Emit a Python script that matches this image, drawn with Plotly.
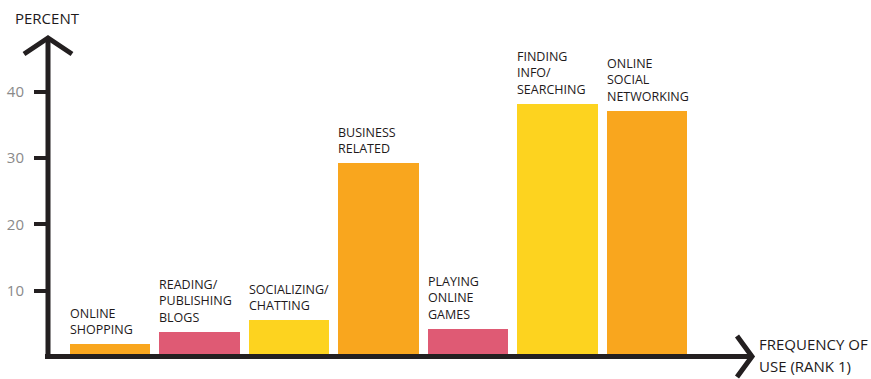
import plotly.graph_objects as go

# Share of respondents naming each activity as their most frequent use (rank 1)
categories = [
    "ONLINE<br>SHOPPING",
    "READING/<br>PUBLISHING<br>BLOGS",
    "SOCIALIZING/<br>CHATTING",
    "BUSINESS<br>RELATED",
    "PLAYING<br>ONLINE<br>GAMES",
    "FINDING<br>INFO/<br>SEARCHING",
    "ONLINE<br>SOCIAL<br>NETWORKING",
]
percent = [2.0, 3.8, 5.6, 29.3, 4.2, 38.2, 37.1]
y_ticks = [10, 20, 30, 40]

ORANGE = "#F9A61E"
PINK = "#DF5A74"
YELLOW = "#FDD31F"
bar_colors = [ORANGE, PINK, YELLOW, ORANGE, PINK, YELLOW, ORANGE]

INK = "#1E1A1B"
TICK_GREY = "#8A8A8A"
FONT = "Open Sans"

W, H = 871, 379
L, R, T, B = 51, 753, 38, 354  # plot area in pixels
ZERO_PX, PX_PER_UNIT = 357, 6.633  # where 0 % sits and the vertical scale
BAR_W = 0.894

positions = list(range(len(categories)))


def px_x(p):
    return (p - L) / (R - L)


def px_y(p):
    return (B - p) / (B - T)


fig = go.Figure(
    go.Bar(
        x=positions,
        y=percent,
        width=BAR_W,
        marker=dict(color=bar_colors, line=dict(width=0)),
        hoverinfo="skip",
    )
)

annotations = []
for i, (name, v) in enumerate(zip(categories, percent)):
    annotations.append(dict(
        x=i - BAR_W / 2, y=v, xref="x", yref="y",
        text=name, showarrow=False, align="left",
        xanchor="left", yanchor="bottom", xshift=-2, yshift=4,
        font=dict(family=FONT, size=12.5, color=INK),
    ))

# axis titles
annotations += [
    dict(x=px_x(47), y=px_y(18), xref="paper", yref="paper", text="PERCENT",
         showarrow=False, xanchor="center", yanchor="middle",
         font=dict(family=FONT, size=15, color=INK)),
    dict(x=px_x(757), y=px_y(344), xref="paper", yref="paper", text="FREQUENCY OF",
         showarrow=False, xanchor="left", yanchor="middle",
         font=dict(family=FONT, size=15, color=INK)),
    dict(x=px_x(757), y=px_y(366), xref="paper", yref="paper", text="USE (RANK 1)",
         showarrow=False, xanchor="left", yanchor="middle",
         font=dict(family=FONT, size=15, color=INK)),
]

line = dict(color="#231F20", width=5)
shapes = [
    # vertical axis with arrowhead
    dict(type="line", xref="paper", yref="paper",
         x0=px_x(48), x1=px_x(48), y0=px_y(359), y1=px_y(38), line=line),
    dict(type="path", xref="paper", yref="paper",
         path=f"M {px_x(24)} {px_y(54)} L {px_x(48)} {px_y(38)} L {px_x(72)} {px_y(54)}",
         line=line),
    # horizontal axis with arrowhead
    dict(type="line", xref="paper", yref="paper",
         x0=px_x(45), x1=px_x(752), y0=px_y(356.5), y1=px_y(356.5), line=line),
    dict(type="path", xref="paper", yref="paper",
         path=f"M {px_x(737)} {px_y(336)} L {px_x(752)} {px_y(356.5)} L {px_x(737)} {px_y(377)}",
         line=line),
]

fig.update_layout(
    width=W, height=H,
    margin=dict(l=L, r=W - R, t=T, b=H - B, pad=0, autoexpand=False),
    paper_bgcolor="white", plot_bgcolor="white",
    showlegend=False,
    bargap=0,
    annotations=annotations,
    shapes=shapes,
    xaxis=dict(
        range=[(L - 110) / 89.5, (R - 110) / 89.5],
        showgrid=False, zeroline=False, showline=False, automargin=False,
        showticklabels=False, ticks="", fixedrange=True,
    ),
    yaxis=dict(
        range=[(ZERO_PX - B) / PX_PER_UNIT, (ZERO_PX - T) / PX_PER_UNIT],
        tickvals=y_ticks, ticktext=[str(t) for t in y_ticks],
        ticks="outside", ticklen=16, tickwidth=4, tickcolor="#231F20",
        ticklabelstandoff=7, automargin=False,
        showgrid=False, zeroline=False, showline=False,
        tickfont=dict(family=FONT, size=15, color=TICK_GREY),
        fixedrange=True,
    ),
)

fig.write_html("out.html")
